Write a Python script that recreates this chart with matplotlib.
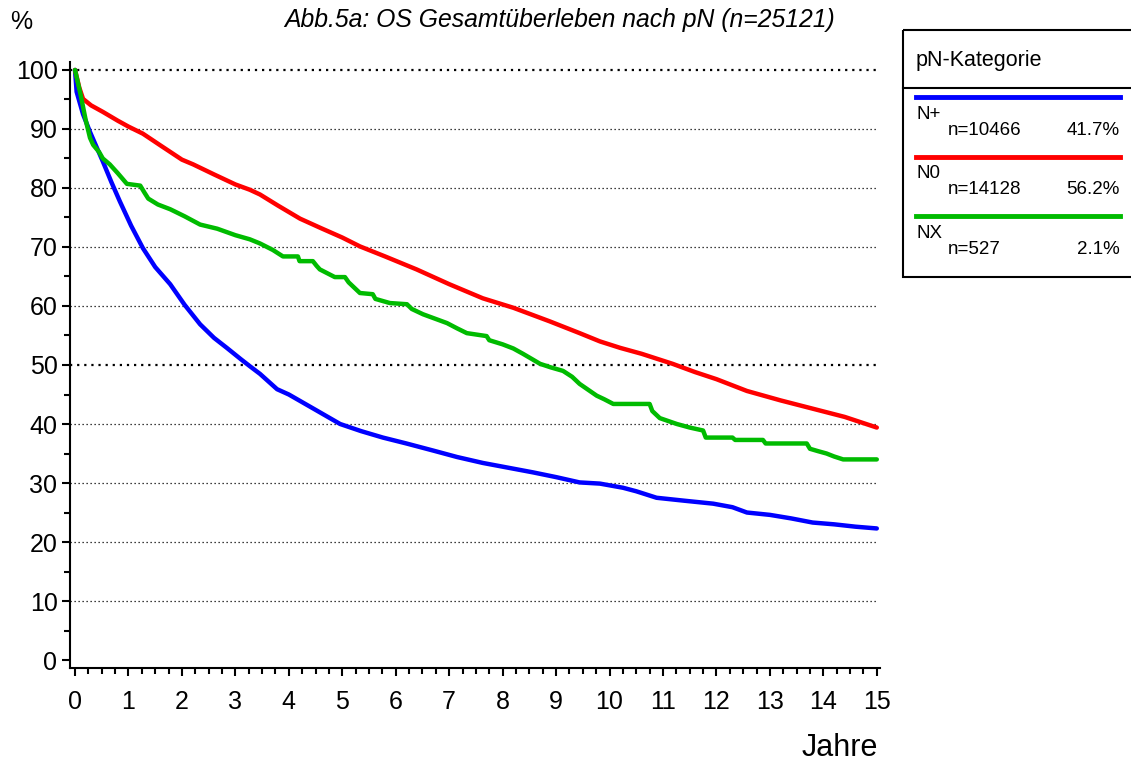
import matplotlib
matplotlib.use("Agg")
import matplotlib.pyplot as plt
from matplotlib.lines import Line2D
from matplotlib.patches import Rectangle

plt.rcParams['font.family'] = ['Liberation Sans', 'DejaVu Sans']

# ---------------- data ----------------
categories = ["N+", "N0", "NX"]
counts = ["n=10466", "n=14128", "n=527"]
percents = ["41.7%", "56.2%", "2.1%"]
colors = ["#0000ff", "#ff0000", "#00bb00"]

nplus_t = [0, 0.03, 0.15, 0.28, 0.4, 0.52, 0.68, 0.84, 1.05, 1.27, 1.5, 1.78, 2.05, 2.34, 2.6, 2.84,
           3.1, 3.27, 3.46, 3.78, 4.0, 4.5, 4.96, 5.35, 5.76, 6.2, 6.7, 7.15, 7.63, 8.1, 8.57, 9.0,
           9.44, 9.82, 10.25, 10.5, 10.88, 11.4, 11.94, 12.3, 12.57, 13.0, 13.4, 13.8, 14.2, 14.6, 15.0]
nplus_s = [100, 96.3, 92.5, 89.5, 87.0, 84.5, 81.0, 77.7, 73.6, 69.8, 66.6, 63.7, 60.2, 56.9, 54.6, 52.9,
           51.0, 49.8, 48.5, 45.9, 45.0, 42.4, 40.0, 38.8, 37.7, 36.7, 35.5, 34.4, 33.4, 32.6, 31.8, 31.0,
           30.1, 29.9, 29.2, 28.6, 27.5, 27.0, 26.5, 25.9, 25.0, 24.6, 24.0, 23.3, 23.0, 22.6, 22.3]

n0_t = [0, 0.08, 0.15, 0.3, 0.52, 0.8, 1.0, 1.27, 1.6, 2.0, 2.21, 2.6, 3.0, 3.27, 3.46, 3.8, 4.21, 4.6,
        5.0, 5.33, 5.8, 6.39, 7.0, 7.63, 8.2, 8.88, 9.44, 9.82, 10.2, 10.6, 11.18, 11.6, 12.0, 12.57,
        13.2, 13.8, 14.4, 15.0]
n0_s = [100, 97.0, 95.1, 94.0, 92.9, 91.4, 90.4, 89.2, 87.2, 84.8, 84.0, 82.3, 80.6, 79.7, 78.9, 77.0, 74.8, 73.2,
        71.6, 70.1, 68.4, 66.2, 63.7, 61.3, 59.7, 57.4, 55.4, 54.0, 52.9, 51.9, 50.2, 48.8, 47.6, 45.6,
        44.0, 42.6, 41.2, 39.4]

# NX: vertices of the drawn (step-like) curve, flats given explicitly
nx_t = [0, 0.1, 0.2, 0.28, 0.34, 0.45, 0.52, 0.65, 0.8, 0.97, 1.22, 1.3, 1.37, 1.55, 1.78, 2.05, 2.34,
        2.66, 3.0, 3.27, 3.46, 3.7, 3.89, 4.17, 4.2, 4.45, 4.52, 4.58, 4.86, 5.05, 5.12, 5.33, 5.57, 5.62,
        5.89, 6.21, 6.3, 6.51, 6.75, 6.96, 7.15, 7.33, 7.7, 7.75, 8.0, 8.2, 8.38, 8.55, 8.7, 8.9, 9.13,
        9.3, 9.44, 9.6, 9.76, 9.9, 10.07, 10.75, 10.8, 10.94, 11.1, 11.26, 11.5, 11.75, 11.8, 12.3, 12.35,
        12.87, 12.92, 13.69, 13.75, 13.9, 14.06, 14.2, 14.37, 15.0]
nx_s = [100, 96.0, 91.5, 88.5, 87.3, 86.1, 85.0, 84.0, 82.5, 80.7, 80.4, 79.2, 78.2, 77.2, 76.4, 75.2, 73.8,
        73.1, 72.0, 71.3, 70.6, 69.5, 68.4, 68.4, 67.6, 67.6, 66.8, 66.2, 64.9, 64.9, 64.0, 62.2, 62.0, 61.2,
        60.5, 60.3, 59.5, 58.6, 57.8, 57.1, 56.2, 55.4, 54.9, 54.2, 53.5, 52.8, 51.9, 51.0, 50.2, 49.6, 49.0,
        48.0, 46.8, 45.8, 44.8, 44.2, 43.4, 43.4, 42.2, 41.0, 40.5, 40.0, 39.4, 38.9, 37.7, 37.7, 37.3,
        37.3, 36.7, 36.7, 35.8, 35.4, 35.0, 34.5, 34.0, 34.0]

series_t = [nplus_t, n0_t, nx_t]
series_s = [nplus_s, n0_s, nx_s]

yticks = list(range(0, 101, 10))
xticks = list(range(0, 16))

# ---------------- figure ----------------
W, H = 1131, 765
fig = plt.figure(figsize=(W / 100, H / 100), dpi=100)

ax_l, ax_r, ax_t, ax_b = 70, 880, 62, 668
ax = fig.add_axes([ax_l / W, 1 - ax_b / H, (ax_r - ax_l) / W, (ax_b - ax_t) / H])
ax.set_xlim(-0.094, 15.06)
ax.set_ylim(-1.35, 101.35)

# grid
for y in yticks[1:]:
    lw = 1.6 if y in (50, 100) else 0.9
    ax.plot([-0.094, 15.0], [y, y], color="black", lw=lw, linestyle=(0, (1, 2.2)), zorder=1)

for t, s, c in zip(series_t, series_s, colors):
    ax.plot(t, s, color=c, lw=3.2, solid_joinstyle="round", solid_capstyle="round", zorder=3)

for sp in ["top", "right"]:
    ax.spines[sp].set_visible(False)
ax.spines["left"].set_linewidth(1.5)
ax.spines["bottom"].set_linewidth(1.5)

ax.set_yticks(yticks)
ax.set_yticks(list(range(5, 100, 10)), minor=True)
ax.set_xticks(xticks)
ax.set_xticks([i * 0.25 for i in range(61)], minor=True)
ax.tick_params(axis="both", which="major", labelsize=18, width=1.5, length=6, direction="out")
ax.tick_params(axis="both", which="minor", width=1.5, length=4, direction="out")
ax.tick_params(axis="x", which="major", pad=10)
ax.tick_params(axis="y", which="major", pad=3)

fig.text(10 / W, 1 - 22 / H, "%", fontsize=18, va="center", ha="left")
fig.text(560 / W, 1 - 20 / H, "Abb.5a: OS Gesamtüberleben nach pN (n=25121)", fontsize=17.8,
         style="italic", ha="center", va="center")
fig.text(878 / W, 1 - 748 / H, "Jahre", fontsize=22, ha="right", va="center")

# legend panel in pixel coordinates
lg = fig.add_axes([0, 0, 1, 1])
lg.set_xlim(0, W)
lg.set_ylim(H, 0)
lg.axis("off")
lg.add_patch(Rectangle((903, 30), 240, 247, fill=False, lw=1.5, ec="black"))
lg.plot([903, 1135], [88, 88], color="black", lw=1.5)
lg.text(916, 60, "pN-Kategorie", fontsize=15.5, va="center", ha="left")
for i, (cat, n, p, c) in enumerate(zip(categories, counts, percents, colors)):
    y0 = 97 + i * 59.5
    lg.add_line(Line2D([916, 1120], [y0, y0], color=c, lw=3.5))
    lg.text(916, y0 + 17, cat, fontsize=13.5, va="center", ha="left")
    lg.text(948, y0 + 33, n, fontsize=13.5, va="center", ha="left")
    lg.text(1120, y0 + 33, p, fontsize=13.5, va="center", ha="right")

fig.savefig("out.png", dpi=100)
